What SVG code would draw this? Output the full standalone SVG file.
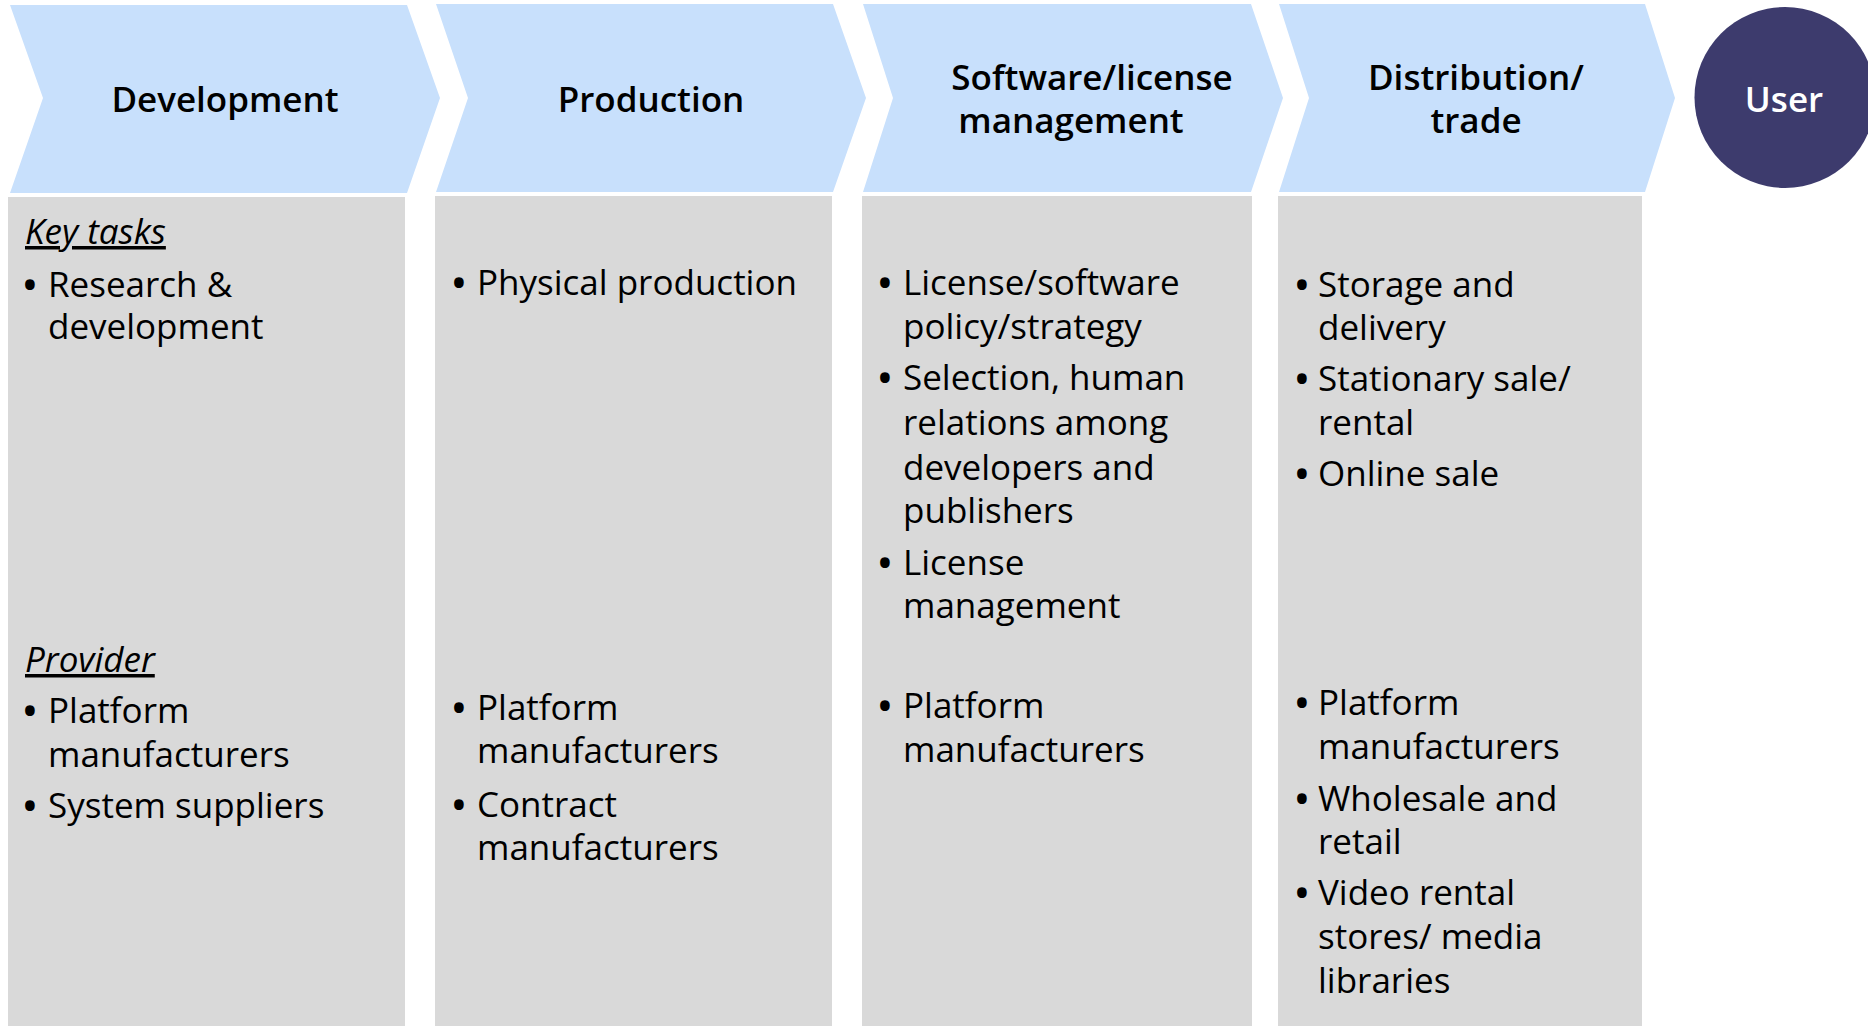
<svg xmlns="http://www.w3.org/2000/svg" width="1868" height="1026" viewBox="0 0 1868 1026">
<style>
.chev{fill:#C8E0FC}
.col{fill:#D9D9D9}
.hd{font-family:"Open Sans","Noto Sans",sans-serif;font-size:35px;font-weight:600;fill:#000;text-anchor:middle}
.tx{font-family:"Open Sans","Noto Sans",sans-serif;font-size:35px;fill:#000}
.bl{font-family:"Open Sans","Noto Sans",sans-serif;font-size:46px;fill:#000;text-anchor:middle}
.it{font-style:italic;text-decoration:underline}
.usr{font-family:"Open Sans","Noto Sans",sans-serif;font-size:35px;font-weight:600;fill:#fff;text-anchor:middle}
</style>
<rect width="1868" height="1026" fill="#fff"/>

<g id="development">
<polygon class="chev" points="10,5 407,5 440,98 407,193 10,193 43,98"/>
<text class="hd" x="225" y="112">Development</text>
<rect class="col" x="8" y="197" width="397" height="829"/>
<text class="tx it" x="25" y="244">Key tasks</text>
<text class="bl" x="30" y="301">•</text>
<text class="tx" x="48" y="297">Research &amp;</text>
<text class="tx" x="48" y="339">development</text>
<text class="tx it" x="25" y="672">Provider</text>
<text class="bl" x="30" y="727">•</text>
<text class="tx" x="48" y="723">Platform</text>
<text class="tx" x="48" y="767">manufacturers</text>
<text class="bl" x="30" y="822">•</text>
<text class="tx" x="48" y="818">System suppliers</text>
</g>

<g id="production">
<polygon class="chev" points="436,4 833,4 866,98 833,192 436,192 468,98"/>
<text class="hd" x="651" y="112">Production</text>
<rect class="col" x="435" y="196" width="397" height="830"/>
<text class="bl" x="459" y="299">•</text>
<text class="tx" x="477" y="295">Physical production</text>
<text class="bl" x="459" y="724">•</text>
<text class="tx" x="477" y="720">Platform</text>
<text class="tx" x="477" y="763">manufacturers</text>
<text class="bl" x="459" y="821">•</text>
<text class="tx" x="477" y="817">Contract</text>
<text class="tx" x="477" y="860">manufacturers</text>
</g>

<g id="software">
<polygon class="chev" points="863,4 1251,4 1283,98 1251,192 863,192 893,98"/>
<text class="hd" x="1092" y="90">Software/license</text>
<text class="hd" x="1071" y="133">management</text>
<rect class="col" x="862" y="196" width="390" height="830"/>
<text class="bl" x="885" y="299">•</text>
<text class="tx" x="903" y="295">License/software</text>
<text class="tx" x="903" y="339">policy/strategy</text>
<text class="bl" x="885" y="394">•</text>
<text class="tx" x="903" y="390">Selection, human</text>
<text class="tx" x="903" y="435">relations among</text>
<text class="tx" x="903" y="480">developers and</text>
<text class="tx" x="903" y="523">publishers</text>
<text class="bl" x="885" y="579">•</text>
<text class="tx" x="903" y="575">License</text>
<text class="tx" x="903" y="618">management</text>
<text class="bl" x="885" y="722">•</text>
<text class="tx" x="903" y="718">Platform</text>
<text class="tx" x="903" y="762">manufacturers</text>
</g>

<g id="distribution">
<polygon class="chev" points="1279,4 1645,4 1675,98 1645,192 1279,192 1309,98"/>
<text class="hd" x="1476" y="90">Distribution/</text>
<text class="hd" x="1476" y="133">trade</text>
<rect class="col" x="1278" y="196" width="364" height="830"/>
<text class="bl" x="1302" y="301">•</text>
<text class="tx" x="1318" y="297">Storage and</text>
<text class="tx" x="1318" y="340">delivery</text>
<text class="bl" x="1302" y="395">•</text>
<text class="tx" x="1318" y="391">Stationary sale/</text>
<text class="tx" x="1318" y="435">rental</text>
<text class="bl" x="1302" y="490">•</text>
<text class="tx" x="1318" y="486">Online sale</text>
<text class="bl" x="1302" y="719">•</text>
<text class="tx" x="1318" y="715">Platform</text>
<text class="tx" x="1318" y="759">manufacturers</text>
<text class="bl" x="1302" y="815">•</text>
<text class="tx" x="1318" y="811">Wholesale and</text>
<text class="tx" x="1318" y="854">retail</text>
<text class="bl" x="1302" y="909">•</text>
<text class="tx" x="1318" y="905">Video rental</text>
<text class="tx" x="1318" y="949">stores/ media</text>
<text class="tx" x="1318" y="993">libraries</text>
</g>

<g id="user">
<circle cx="1785" cy="97.5" r="90.5" fill="#3D3B6D"/>
<text class="usr" x="1784" y="112">User</text>
</g>

<g id="connectors"></g>
</svg>
